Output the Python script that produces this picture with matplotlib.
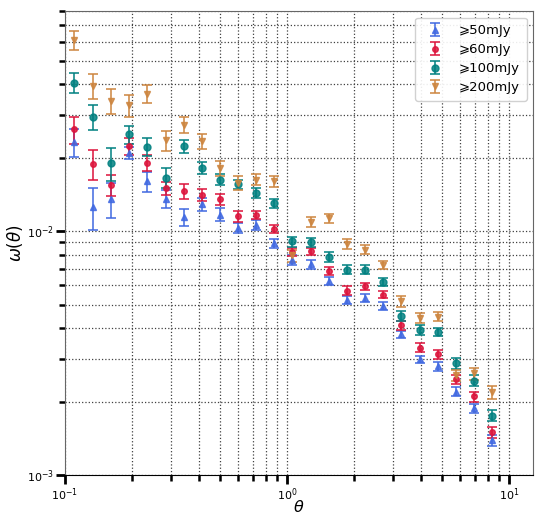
import numpy as np
import matplotlib
matplotlib.use('Agg')
import matplotlib.pyplot as plt

# angular bins (degrees)
theta = [0.110, 0.133, 0.161, 0.195, 0.235, 0.284, 0.344, 0.414, 0.499, 0.602,
         0.725, 0.874, 1.056, 1.279, 1.538, 1.857, 2.246, 2.706, 3.263, 3.945,
         4.753, 5.75, 6.93, 8.36]

# >=50 mJy
w50 = [0.0232, 0.0126, 0.0135, 0.0210, 0.0160, 0.0136, 0.0114, 0.0129, 0.0117, 0.01035,
       0.0106, 0.00893, 0.00764, 0.00733, 0.00627, 0.00524, 0.00533, 0.00493, 0.00377, 0.00298,
       0.00279, 0.00220, 0.00188, 0.00139]
e50 = [0.0031, 0.0025, 0.0022, 0.0012, 0.0015, 0.0011, 0.0009, 0.00075, 0.0007, 0.0005,
       0.0005, 0.0004, 0.00036, 0.0003, 0.00024, 0.0002, 0.0002, 0.00018, 0.00014, 0.00011,
       0.00012, 0.0001, 0.00008, 0.00007]

# >=60 mJy
w60 = [0.0262, 0.0189, 0.0155, 0.0224, 0.0191, 0.0150, 0.0146, 0.0141, 0.0135, 0.0115,
       0.01165, 0.0102, 0.00821, 0.00826, 0.00685, 0.00571, 0.00594, 0.00550, 0.00411, 0.00333,
       0.00313, 0.00247, 0.00210, 0.00150]
e60 = [0.0033, 0.0026, 0.0015, 0.0018, 0.0015, 0.0009, 0.0010, 0.0008, 0.00065, 0.00055,
       0.00045, 0.0004, 0.0003, 0.0003, 0.00026, 0.00024, 0.00022, 0.0002, 0.00016, 0.00014,
       0.00013, 0.00011, 0.0001, 0.00008]

# >=100 mJy
w100 = [0.0406, 0.0295, 0.0190, 0.0250, 0.0222, 0.0166, 0.0223, 0.0182, 0.0163, 0.0156,
        0.0144, 0.0130, 0.00908, 0.0090, 0.00782, 0.00695, 0.00695, 0.00617, 0.00451, 0.00393,
        0.00386, 0.00287, 0.00244, 0.00175]
e100 = [0.0038, 0.0034, 0.0029, 0.0021, 0.0019, 0.0016, 0.0014, 0.0010, 0.0008, 0.0007,
        0.0007, 0.0006, 0.00043, 0.00038, 0.00037, 0.0003, 0.0003, 0.00023, 0.00021, 0.00018,
        0.00014, 0.00014, 0.00012, 0.00009]

# >=200 mJy
w200 = [0.0609, 0.0395, 0.0343, 0.0328, 0.0367, 0.0236, 0.0274, 0.0234, 0.0182, 0.0158,
        0.0163, 0.0160, 0.00796, 0.0109, 0.0113, 0.00887, 0.00839, 0.00729, 0.00516, 0.00440,
        0.00446, 0.00256, 0.00261, 0.00218]
e200 = [0.0055, 0.0045, 0.0039, 0.0033, 0.0030, 0.0022, 0.0020, 0.0016, 0.0013, 0.0010,
        0.00085, 0.00085, 0.00045, 0.0005, 0.00048, 0.00042, 0.00036, 0.00028, 0.00025, 0.00021,
        0.00019, 0.00013, 0.00015, 0.00013]

labels = ['⩾50mJy', '⩾60mJy', '⩾100mJy', '⩾200mJy']
colors = ['royalblue', 'crimson', 'teal', 'peru']
markers = ['^', 'o', 'o', 'v']
sizes = [5, 4, 5, 5]

fig = plt.figure(figsize=(5.35, 5.16), dpi=100)
ax = fig.add_axes([0.1215, 0.0795, 0.875, 0.899])

series = [(w50, e50), (w60, e60), (w100, e100), (w200, e200)]
for (w, e), lab, c, m, s in zip(series, labels, colors, markers, sizes):
    ax.errorbar(theta, w, yerr=e, fmt=m, color=c, ms=s, ecolor=c,
                elinewidth=1.3, capsize=3.5, capthick=1.3, alpha=0.85,
                label=lab)

ax.set_xscale('log')
ax.set_yscale('log')
ax.set_xlim(0.1, 12.8)
ax.set_ylim(1e-3, 8e-2)

ax.grid(which='both', ls=':', color='0.25', lw=0.9)
ax.tick_params(which='major', direction='out', length=6.5, width=2,
               labelsize=8, pad=1.5)
ax.tick_params(which='minor', direction='out', length=4, width=1.8)
ax.yaxis.set_minor_formatter(matplotlib.ticker.NullFormatter())
ax.xaxis.set_minor_formatter(matplotlib.ticker.NullFormatter())
for sp in ['left', 'top', 'right']:
    ax.spines[sp].set_color('0.4')
ax.spines['bottom'].set_color('black')

ax.set_xlabel(r'$\theta$', fontsize=11.5, labelpad=-2.5)
ax.set_ylabel(r'$\omega(\theta)$', fontsize=12, labelpad=1)

ax.legend(loc='upper right', fontsize=9.5, framealpha=0.9,
          handletextpad=0.8, labelspacing=0.45, borderpad=0.5)

fig.savefig('out.png', dpi=100)
